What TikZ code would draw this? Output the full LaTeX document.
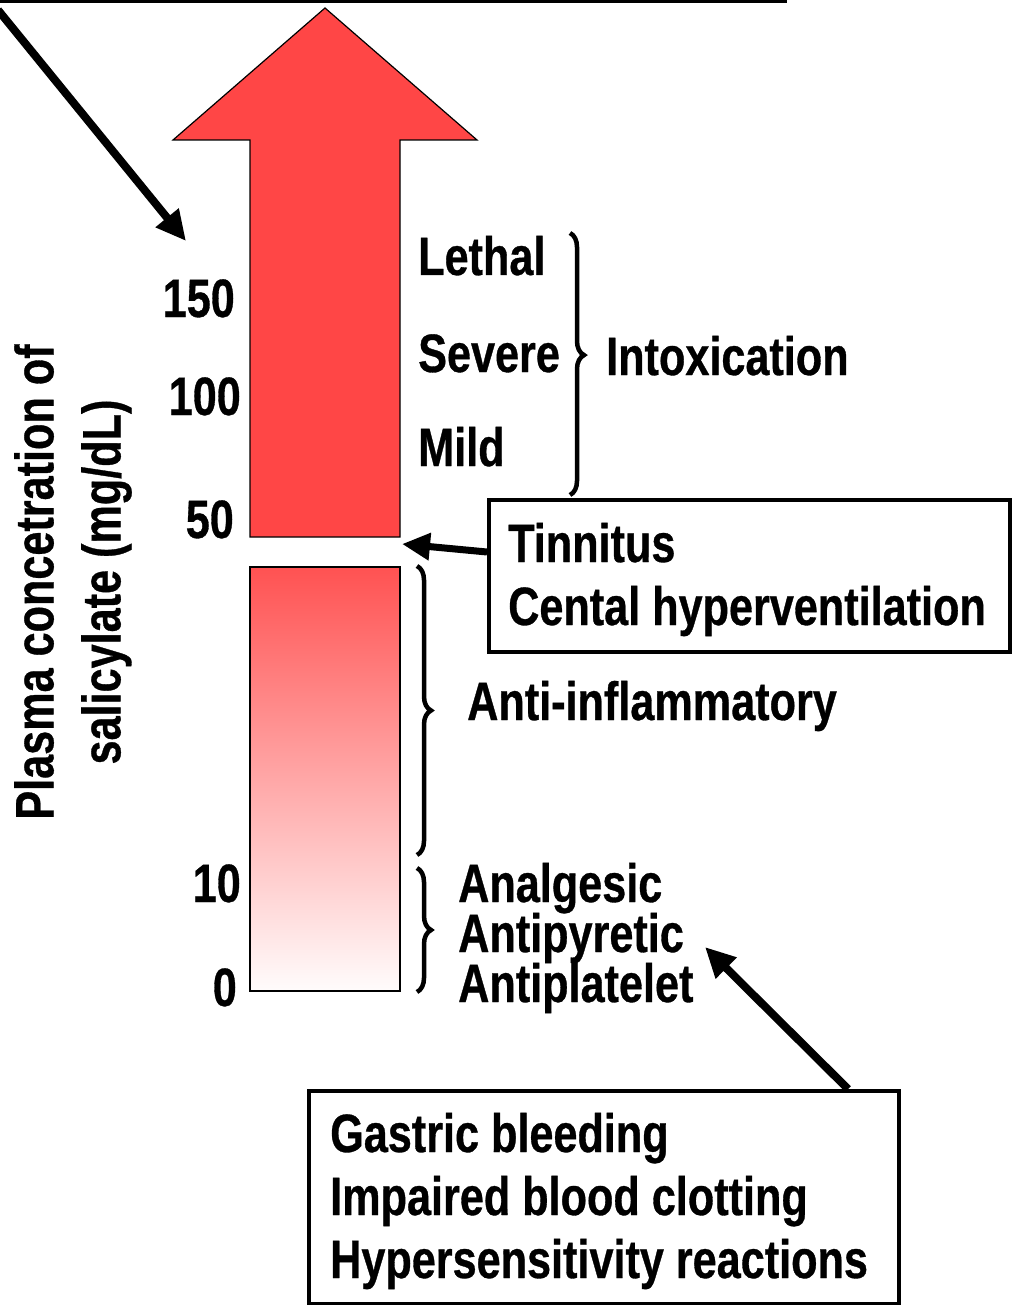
\documentclass[tikz,border=0pt]{standalone}
\usepackage{fontspec}
\setmainfont{Liberation Sans}[FakeStretch=0.8, BoldFeatures={FakeBold=0.6}]
\usetikzlibrary{arrows.meta,decorations.pathreplacing}
\definecolor{arrred}{RGB}{255,70,70}
\definecolor{bartop}{RGB}{255,82,82}
\definecolor{barmid}{RGB}{255,190,190}
\definecolor{barbot}{RGB}{255,252,252}
\tikzset{
  lbl/.style={inner sep=0pt, font=\bfseries\fontsize{54}{64}\selectfont},
  numlbl/.style={lbl, anchor=base east},
  txt/.style={lbl, anchor=base west},
  boxnode/.style={draw, line width=4pt, inner sep=0pt, anchor=north west},
  bigarrow/.style={line width=8pt, -{Triangle[length=30pt,width=28pt]}},
  bracestyle/.style={line width=4.5pt, decorate, decoration={brace, amplitude=14pt, aspect=#1}},
}
\begin{document}
\begin{tikzpicture}[x=1pt,y=-1pt]
\useasboundingbox (0,0) rectangle (1013,1305);
% top line
\coordinate (tlA) at (0,1.5);
\coordinate (tlB) at (787,1.5);
\draw[line width=3pt] (tlA) -- (tlB);
% big red arrow
\draw[fill=arrred, line width=1.2pt] (250,537) -- (250,140) -- (173,140) -- (325,8) -- (477,140) -- (400,140) -- (400,537) -- cycle;
% gradient bar
\path[top color=bartop, middle color=barmid, bottom color=barbot] (250,567) rectangle (400,991);
\draw[line width=1.2pt] (250,567) rectangle (400,991);
% diagonal arrow top-left
\coordinate (dA) at (-2,10);
\coordinate (dB) at (186,241);
\draw[bigarrow] (dA) -- (dB);
% axis label
\node[lbl, rotate=90, align=center, font=\bfseries\fontsize{54}{67}\selectfont] (axis) at (73,582) {Plasma concetration of\\salicylate (mg/dL)};
% numbers
\node[numlbl] (n150) at (235,317) {150};
\node[numlbl] (n100) at (241,415) {100};
\node[numlbl] (n50) at (234,538) {50};
\node[numlbl] (n10) at (241,902) {10};
\node[numlbl] (n0) at (237,1006) {0};
% intoxication levels
\node[txt] (leth) at (418,275) {Lethal};
\node[txt] (sev) at (418,372) {Severe};
\node[txt] (mild) at (418,466) {Mild};
\coordinate (b1t) at (570,233);
\coordinate (b1b) at (570,495);
\draw[bracestyle=0.466] (b1t) -- (b1b);
\node[txt] (intox) at (606,375) {Intoxication};
% tinnitus box
\node[boxnode, minimum width=521pt, minimum height=152pt] (tbox) at (487,498) {};
\node[txt] (tin) at (508,562) {Tinnitus};
\node[txt] (cent) at (508,625) {Cental hyperventilation};
\coordinate (tstart) at (487,552);
\coordinate (ttip) at (402,544);
\draw[line width=7pt, -{Triangle[length=28pt,width=26pt]}] (tstart) -- (ttip);
% anti-inflammatory
\coordinate (b2t) at (417,566);
\coordinate (b2b) at (417,855);
\draw[bracestyle=0.5] (b2t) -- (b2b);
\node[txt] (anti) at (467,720) {Anti-inflammatory};
% analgesic group
\coordinate (b3t) at (417,868);
\coordinate (b3b) at (417,992);
\draw[bracestyle=0.5] (b3t) -- (b3b);
\node[txt] (anal) at (458,902) {Analgesic};
\node[txt] (pyr) at (458,952) {Antipyretic};
\node[txt] (plat) at (458,1002) {Antiplatelet};
% bottom box
\node[boxnode, minimum width=590pt, minimum height=213pt] (bbox) at (307,1089) {};
\node[txt] (gas) at (330,1152) {Gastric bleeding};
\node[txt] (imp) at (330,1215) {Impaired blood clotting};
\node[txt] (hyp) at (330,1278) {Hypersensitivity reactions};
\coordinate (bstart) at (848,1089);
\coordinate (btip) at (705,947);
\draw[bigarrow] (bstart) -- (btip);
\end{tikzpicture}
\end{document}
